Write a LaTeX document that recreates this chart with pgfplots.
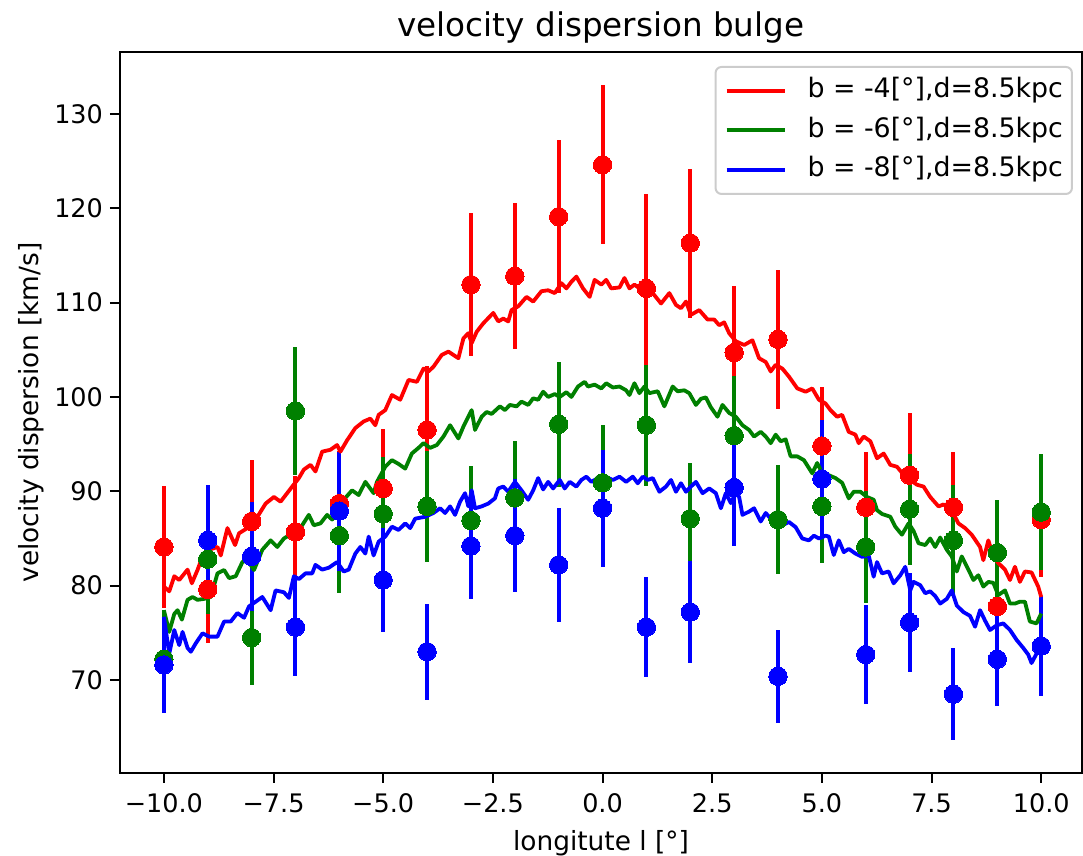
\documentclass[border=0pt]{standalone}
\usepackage{fontspec}
\setmainfont{DejaVu Sans}
\usepackage{pgfplots}
\pgfplotsset{compat=1.18}
\usepackage{pgfplotstable}
\definecolor{mplred}{RGB}{255,0,0}
\definecolor{mplgreen}{RGB}{0,128,0}
\definecolor{mplblue}{RGB}{0,0,255}
\definecolor{legendgray}{RGB}{204,204,204}

\pgfplotstableread{
x y e
-10 84.1 6.5
-9 79.6 5.7
-8 86.8 6.5
-7 85.7 5.9
-6 88.7 5.6
-5 90.3 6.3
-4 96.5 6.8
-3 111.9 7.6
-2 112.8 7.7
-1 119.1 8.1
0 124.6 8.4
1 111.5 10.0
2 116.3 7.9
3 104.7 7.0
4 106.1 7.4
5 94.8 6.3
6 88.3 5.9
7 91.7 6.6
8 88.3 5.9
9 77.8 5.4
10 87.0 6.1
}\redpts

\pgfplotstableread{
x y e
-10 72.2 5.2
-9 82.8 5.8
-8 74.5 5.0
-7 98.5 6.8
-6 85.3 6.1
-5 87.6 6.0
-4 88.4 5.9
-3 86.9 5.8
-2 89.3 6.0
-1 97.1 6.6
0 90.9 6.1
1 97.0 6.4
2 87.1 5.9
3 95.9 6.3
4 87.0 5.8
5 88.4 6.0
6 84.1 5.9
7 88.1 5.9
8 84.8 5.9
9 83.5 5.6
10 87.8 6.1
}\greenpts

\pgfplotstableread{
x y e
-10 71.6 5.1
-9 84.8 5.9
-8 83.1 5.8
-7 75.6 5.2
-6 87.9 6.3
-5 80.6 5.5
-4 73.0 5.1
-3 84.2 5.6
-2 85.3 6.0
-1 82.2 6.0
0 88.2 6.2
1 75.6 5.3
2 77.2 5.4
3 90.4 6.2
4 70.4 4.9
5 91.3 6.3
6 72.7 5.2
7 76.1 5.2
8 68.5 4.9
9 72.2 4.9
10 73.6 5.3
}\bluepts

\begin{document}
\begin{tikzpicture}
\path[use as bounding box] (-60pt,-41.5pt) rectangle (481.5pt,386.5pt);
\begin{axis}[
  scale only axis, width=481pt, height=360.5pt,
  xmin=-11, xmax=10.93, ymin=60.15, ymax=136.55,
  xtick={-10,-7.5,-5,-2.5,0,2.5,5,7.5,10},
  xticklabels={−10.0,−7.5,−5.0,−2.5,0.0,2.5,5.0,7.5,10.0},
  ytick={70,80,90,100,110,120,130},
  yticklabels={70,80,90,100,110,120,130},
  tick pos=left, tick align=outside,
  major tick length=5pt,
  every tick/.style={black, line width=1pt},
  axis line style={black, line width=1pt},
  tick label style={font=\fontsize{12.75}{15}\selectfont},
  xticklabel style={yshift=-2pt},
  every axis title shift=0pt,
  title={velocity dispersion bulge},
  title style={at={(axis description cs:0.5,1.0208)}, anchor=base, inner sep=0pt, font=\fontsize{16.3}{19}\selectfont},
  xlabel={longitute l [°]},
  xlabel style={at={(axis description cs:0.5,-0.108)}, anchor=base, inner sep=0pt, font=\fontsize{13.2}{15}\selectfont},
  ylabel={velocity dispersion [km/s]},
  ylabel style={at={(axis description cs:-0.0852,0.5)}, anchor=base, inner sep=0pt, font=\fontsize{13.2}{15}\selectfont},
  legend cell align=left,
  legend image code/.code={\draw[line width=2pt] (0pt,0pt) -- (29pt,0pt);},
  legend style={
    at={(axis description cs:0.9906,0.9806)}, anchor=north east,
    draw=legendgray, line width=1pt, rounded corners=3pt,
    fill=white, fill opacity=0.8, text opacity=1, draw opacity=1,
    font=\fontsize{13.4}{15}\selectfont,
    inner xsep=4.5pt, inner ysep=5.8pt,
    row sep=7.05pt,
    /tikz/every odd column/.append style={column sep=10.5pt},
    nodes={inner sep=0pt, text height=9.6pt, text depth=3pt},
  },
]
% error bars
\addplot[forget plot, only marks, mark=none, mplred,
  error bars/.cd, y dir=both, y explicit, error mark=none,
  error bar style={line width=2pt, mplred}] table[x=x, y=y, y error=e] {\redpts};
\addplot[forget plot, only marks, mark=none, mplgreen,
  error bars/.cd, y dir=both, y explicit, error mark=none,
  error bar style={line width=2pt, mplgreen}] table[x=x, y=y, y error=e] {\greenpts};
\addplot[forget plot, only marks, mark=none, mplblue,
  error bars/.cd, y dir=both, y explicit, error mark=none,
  error bar style={line width=2pt, mplblue}] table[x=x, y=y, y error=e] {\bluepts};

% model curves
\addplot[mplred, line width=1.9pt, line join=round, mark=none] coordinates {
(-10,79.9) (-9.877,79.4) (-9.763,81.0) (-9.650,80.6) (-9.460,81.7) (-9.362,80.25) (-9.233,81.66) (-9.119,83.1) (-8.968,83.8) (-8.778,84.1) (-8.703,83.2) (-8.551,86.1) (-8.377,84.3) (-8.286,85.55) (-8.097,86.1) (-7.907,87.0) (-7.680,88.7) (-7.491,89.4) (-7.339,88.9) (-7.074,90.5) (-6.922,91.4) (-6.809,92.3) (-6.657,92.8) (-6.544,92.1) (-6.392,94.2) (-6.203,94.4) (-6.051,94.9) (-5.975,94.2) (-5.824,95.4) (-5.635,96.7) (-5.445,97.4) (-5.294,97.7) (-5.180,97.0) (-5.104,98.1) (-4.953,98.6) (-4.801,100.2) (-4.612,99.7) (-4.422,101.8) (-4.233,101.6) (-4.081,103.0) (-3.968,102.7) (-3.854,103.2) (-3.665,104.45) (-3.513,104.8) (-3.286,104.1) (-3.172,106.2) (-3.059,106.75) (-2.983,105.7) (-2.869,106.9) (-2.718,107.8) (-2.491,108.9) (-2.377,108.0) (-2.263,108.3) (-2.150,108.0) (-2.074,109.2) (-1.922,109.6) (-1.733,110.6) (-1.581,110.1) (-1.392,111.2) (-1.240,111.3) (-1.089,111.0) (-0.937,112.05) (-0.824,111.5) (-0.710,112.2) (-0.597,112.75) (-0.445,111.5) (-0.294,110.6) (-0.180,112.4) (-0.028,111.9) (0.084,112.4) (0.197,111.5) (0.387,111.6) (0.500,112.6) (0.614,111.5) (0.727,111.9) (0.841,111.5) (0.993,111.5) (1.144,111.0) (1.334,109.9) (1.523,111.0) (1.674,109.75) (1.788,109.4) (1.902,110.1) (2.015,108.7) (2.205,109.2) (2.394,108.2) (2.546,108.2) (2.659,107.6) (2.773,107.9) (2.887,106.75) (3.038,105.9) (3.228,105.5) (3.417,106.0) (3.568,104.1) (3.720,103.7) (3.834,102.7) (3.947,103.4) (4.099,103.0) (4.250,102.15) (4.440,100.9) (4.629,100.55) (4.781,100.9) (4.932,99.7) (5.084,99.3) (5.197,98.6) (5.348,97.9) (5.462,98.1) (5.613,96.3) (5.765,96.0) (5.840,95.1) (5.954,95.8) (6.106,95.3) (6.257,93.5) (6.409,94.0) (6.560,92.8) (6.712,92.6) (6.901,91.55) (7.015,91.2) (7.166,90.7) (7.318,90.5) (7.469,89.4) (7.659,88.4) (7.772,88.6) (7.962,88.0) (8.113,86.6) (8.265,86.1) (8.416,85.4) (8.606,84.1) (8.681,82.7) (8.795,84.8) (8.909,83.1) (9.022,82.4) (9.174,81.7) (9.288,80.6) (9.401,82.0) (9.515,80.4) (9.629,81.5) (9.780,81.4) (9.932,79.9) (10,78.8)
};
\addlegendentry{b = -4[°],d=8.5kpc}
\addplot[mplgreen, line width=1.9pt, line join=round, mark=none] coordinates {
(-10,77.4) (-9.877,75.1) (-9.763,77.0) (-9.688,77.4) (-9.589,76.4) (-9.460,78.5) (-9.347,78.8) (-9.233,78.5) (-9.081,78.6) (-8.930,78.8) (-8.778,81.3) (-8.627,81.66) (-8.513,80.8) (-8.362,81.0) (-8.210,82.5) (-8.097,82.7) (-7.945,81.66) (-7.756,83.8) (-7.566,84.8) (-7.415,84.1) (-7.263,85.0) (-7.074,85.55) (-6.998,85.7) (-6.847,86.4) (-6.695,87.5) (-6.582,86.4) (-6.430,86.6) (-6.278,87.5) (-6.165,87.0) (-6.013,87.84) (-5.862,89.3) (-5.710,90.1) (-5.559,89.6) (-5.407,91.0) (-5.218,89.8) (-5.142,91.0) (-4.953,92.6) (-4.801,93.3) (-4.650,92.9) (-4.498,92.4) (-4.347,94.0) (-4.195,94.6) (-4.081,95.1) (-3.930,94.6) (-3.778,94.9) (-3.627,95.8) (-3.475,97.0) (-3.286,95.6) (-3.172,96.85) (-2.983,98.6) (-2.907,96.5) (-2.756,97.9) (-2.642,98.4) (-2.528,98.2) (-2.339,99.0) (-2.225,98.6) (-2.112,99.15) (-1.960,99.0) (-1.847,99.5) (-1.695,99.15) (-1.581,99.85) (-1.468,99.7) (-1.354,100.55) (-1.240,100.0) (-1.089,100.3) (-0.975,100.0) (-0.824,100.5) (-0.710,100.0) (-0.559,101.1) (-0.407,101.6) (-0.331,101.1) (-0.180,101.3) (-0.028,100.9) (0.084,101.45) (0.235,101.0) (0.387,101.1) (0.538,100.7) (0.614,100.2) (0.727,101.45) (0.841,100.4) (0.955,101.1) (1.068,100.4) (1.258,100.6) (1.409,99.0) (1.599,101.1) (1.712,100.6) (1.864,100.7) (1.977,100.4) (2.129,99.15) (2.243,99.8) (2.356,99.95) (2.470,98.9) (2.621,97.9) (2.735,99.15) (2.887,98.3) (3.038,97.9) (3.190,97.0) (3.341,96.5) (3.455,95.8) (3.606,96.3) (3.720,95.8) (3.834,95.1) (3.947,96.0) (4.061,95.3) (4.175,95.5) (4.288,93.7) (4.440,93.7) (4.591,93.3) (4.781,91.9) (4.894,93.0) (5.008,91.9) (5.159,91.7) (5.310,91.4) (5.462,90.9) (5.613,89.25) (5.727,89.95) (5.878,89.95) (6.030,89.4) (6.181,89.1) (6.257,88.0) (6.371,87.6) (6.560,87.3) (6.674,86.25) (6.825,85.4) (6.977,86.6) (7.090,85.8) (7.204,84.5) (7.356,84.3) (7.469,85.0) (7.583,84.1) (7.697,85.1) (7.848,83.8) (7.962,83.1) (8.075,81.5) (8.189,83.1) (8.341,81.7) (8.454,80.6) (8.568,81.1) (8.681,79.9) (8.795,80.4) (8.909,80.3) (9.022,79.0) (9.174,79.5) (9.288,78.1) (9.401,78.1) (9.515,78.3) (9.629,78.3) (9.742,76.2) (9.894,76.0) (10,77.05)
};
\addlegendentry{b = -6[°],d=8.5kpc}
\addplot[mplblue, line width=1.9pt, line join=round, mark=none] coordinates {
(-10,76.7) (-9.877,72.8) (-9.763,75.3) (-9.650,73.7) (-9.574,75.1) (-9.460,73.4) (-9.385,73.0) (-9.271,73.9) (-9.119,74.95) (-8.968,74.6) (-8.778,74.6) (-8.627,76.2) (-8.475,76.2) (-8.324,77.1) (-8.172,76.6) (-8.059,77.8) (-7.907,78.3) (-7.756,78.8) (-7.566,77.4) (-7.453,79.5) (-7.263,79.3) (-7.150,78.7) (-7.036,81.0) (-6.922,80.7) (-6.771,81.3) (-6.619,81.3) (-6.544,82.2) (-6.392,81.7) (-6.241,81.9) (-6.051,82.5) (-5.900,81.5) (-5.786,81.7) (-5.635,83.4) (-5.521,84.1) (-5.407,83.4) (-5.331,85.2) (-5.218,83.2) (-5.104,84.66) (-4.953,85.2) (-4.801,86.25) (-4.650,85.9) (-4.498,86.6) (-4.385,86.1) (-4.271,87.1) (-4.044,87.3) (-3.854,87.7) (-3.703,88.2) (-3.589,87.7) (-3.475,88.4) (-3.362,87.5) (-3.248,88.9) (-3.134,89.8) (-3.059,88.4) (-2.983,90.1) (-2.907,88.2) (-2.756,88.4) (-2.604,88.7) (-2.453,89.25) (-2.377,90.3) (-2.263,90.5) (-2.150,89.95) (-1.998,91.0) (-1.847,90.1) (-1.695,89.1) (-1.581,90.1) (-1.468,91.4) (-1.354,90.2) (-1.240,91.0) (-1.127,90.3) (-0.975,91.2) (-0.862,90.3) (-0.748,91.0) (-0.597,90.5) (-0.483,91.2) (-0.369,91.55) (-0.256,91.0) (-0.104,91.4) (0.084,91.5) (0.235,91.2) (0.387,91.55) (0.538,91.0) (0.690,91.55) (0.803,90.85) (0.917,91.55) (1.031,91.2) (1.144,91.4) (1.296,89.95) (1.447,90.5) (1.561,91.2) (1.674,89.95) (1.788,90.85) (1.902,89.95) (2.015,90.5) (2.129,91.0) (2.281,89.8) (2.432,90.3) (2.584,89.8) (2.697,88.2) (2.811,89.8) (2.924,88.75) (3.038,89.8) (3.114,89.4) (3.190,87.5) (3.341,87.85) (3.455,88.2) (3.606,86.8) (3.720,87.7) (3.834,87.1) (3.985,86.9) (4.099,86.4) (4.250,86.75) (4.402,86.2) (4.553,85.0) (4.705,84.8) (4.818,85.3) (4.932,85.0) (5.084,85.3) (5.159,85.2) (5.272,83.25) (5.386,84.8) (5.500,83.55) (5.613,83.9) (5.765,83.4) (5.916,83.05) (6.068,83.2) (6.181,80.95) (6.257,82.5) (6.371,81.3) (6.522,81.5) (6.636,80.25) (6.788,81.1) (6.901,82.0) (7.015,79.5) (7.090,80.4) (7.242,80.05) (7.356,79.2) (7.469,79.4) (7.583,78.9) (7.697,78.1) (7.848,78.6) (7.962,79.5) (8.075,77.9) (8.227,77.2) (8.378,76.8) (8.492,75.65) (8.606,77.4) (8.719,76.3) (8.833,75.3) (8.985,75.8) (9.136,76.0) (9.288,75.3) (9.439,74.25) (9.591,73.4) (9.704,72.7) (9.780,71.8) (9.894,72.8) (10,73.5)
};
\addlegendentry{b = -8[°],d=8.5kpc}

% data points
\addplot[forget plot, only marks, mark=*, mark size=4.6pt, color=mplred, mark options={line width=0pt}] table[x=x, y=y] {\redpts};
\addplot[forget plot, only marks, mark=*, mark size=4.6pt, color=mplgreen, mark options={line width=0pt}] table[x=x, y=y] {\greenpts};
\addplot[forget plot, only marks, mark=*, mark size=4.6pt, color=mplblue, mark options={line width=0pt}] table[x=x, y=y] {\bluepts};
\end{axis}
\end{tikzpicture}
\end{document}
